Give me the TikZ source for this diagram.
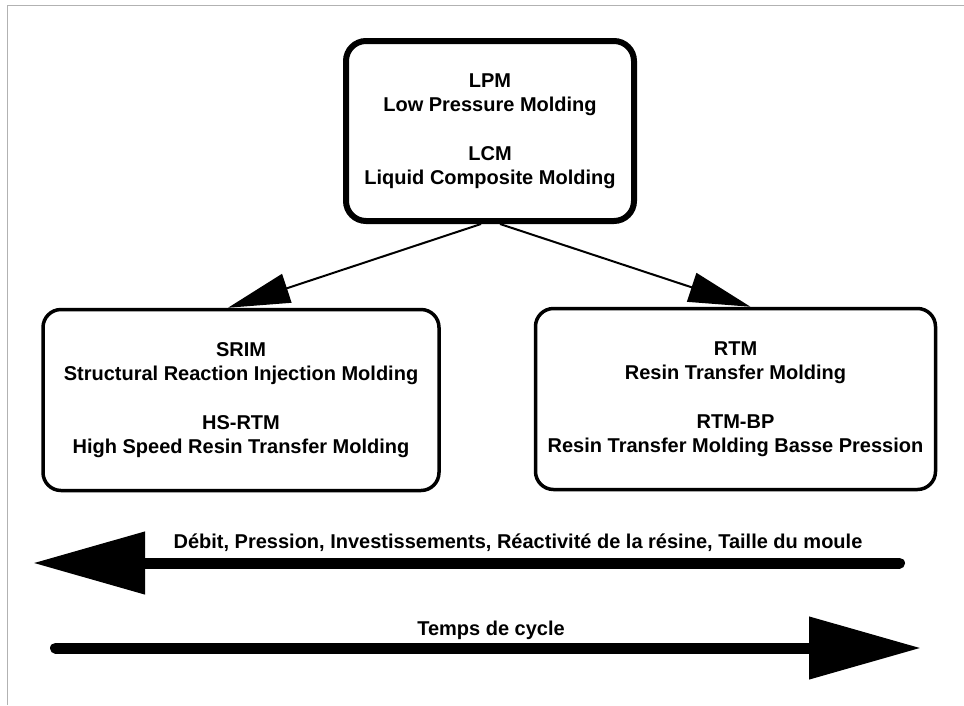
\documentclass[tikz,border=0pt]{standalone}
\usepackage{fontspec}
\setmainfont{Liberation Sans}
\usetikzlibrary{arrows.meta}
\begin{document}
\begin{tikzpicture}[x=1pt,y=-1pt,
  every node/.style={font=\bfseries\fontsize{20}{24.5}\selectfont},
  topbox/.style={draw, line width=6pt, rounded corners=20pt, minimum width=288pt, minimum height=180pt, inner sep=0pt, align=center},
  sidebox/.style={draw, line width=3.5pt, rounded corners=18pt, minimum height=181pt, inner sep=0pt, align=center},
  conn/.style={line width=2pt, -{Triangle[length=62pt,width=30pt]}},
  bigarrow/.style={line width=11pt, line cap=round, -{Triangle[length=112pt,width=60pt]}},
  lbl/.style={anchor=base, inner sep=0pt}
]
\useasboundingbox (0,0) rectangle (964,705);
\fill[white] (0,0) rectangle (964,705);
% frame
\draw[gray!60, line width=1pt] (7,705) -- (7,5) -- (964,5);

% boxes
\node[topbox] (lpm) at (490,131) {LPM\\Low Pressure Molding\\[24pt]LCM\\Liquid Composite Molding};
\node[sidebox, minimum width=396pt] (srim) at (241,400) {SRIM\\Structural Reaction Injection Molding\\[24pt]HS-RTM\\High Speed Resin Transfer Molding};
\node[sidebox, minimum width=400pt] (rtm) at (735.5,399) {RTM\\Resin Transfer Molding\\[24pt]RTM-BP\\Resin Transfer Molding Basse Pression};

% connectors
\draw[conn] ([xshift=-9pt]lpm.south) -- ([xshift=-13pt]srim.north);
\draw[conn] ([xshift=10pt]lpm.south) -- ([xshift=15pt]rtm.north);

% bottom arrows
\node[lbl] (debit) at (518,548) {Débit, Pression, Investissements, Réactivité de la résine, Taille du moule};
\coordinate (dA) at (899.5,563);
\coordinate (dB) at (33,563);
\draw[bigarrow] (dA) -- (dB);

\node[lbl] (temps) at (491,635) {Temps de cycle};
\coordinate (tA) at (55.5,648);
\coordinate (tB) at (921,648);
\draw[bigarrow] (tA) -- (tB);
\end{tikzpicture}
\end{document}
